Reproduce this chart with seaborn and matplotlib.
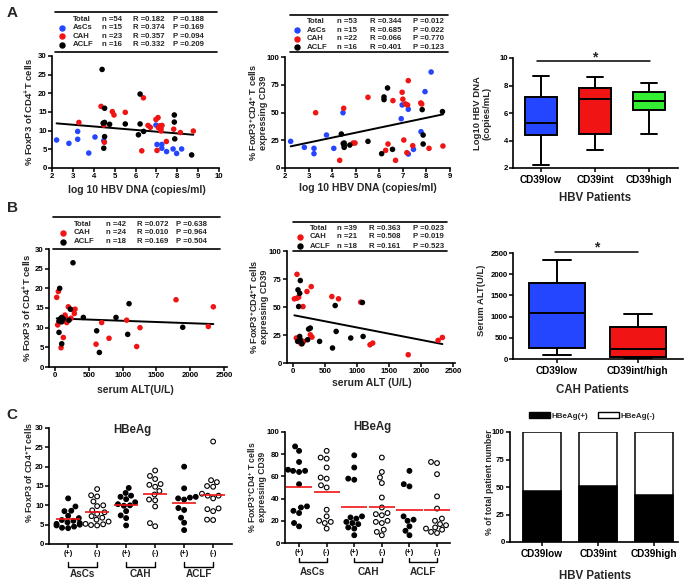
import numpy as np
import pandas as pd
import matplotlib
matplotlib.use("Agg")
import matplotlib.pyplot as plt
import seaborn as sns
from matplotlib.lines import Line2D
from matplotlib.patches import Patch
from matplotlib.transforms import blended_transform_factory

# ------------------------------------------------------------------ data
# Panel A left: log10 HBV DNA vs % FoxP3 of CD4+ T cells
a1_ascs_x = [2.22, 2.81, 3.23, 3.23, 3.76, 4.06, 4.48, 6.98, 7.03, 7.26, 7.26, 7.49, 7.80, 7.97, 8.21]
a1_ascs_y = [7.5, 6.6, 9.8, 7.7, 4.0, 8.3, 7.3, 11.5, 6.3, 6.3, 5.3, 4.4, 5.1, 3.9, 5.1]
a1_cah_x = [3.29, 4.35, 4.48, 4.51, 4.89, 4.97, 5.51, 6.30, 6.38, 6.60, 6.71, 6.98, 7.08, 7.03,
            7.17, 7.22, 7.22, 7.27, 7.48, 7.83, 8.15, 8.77, 7.10]
a1_cah_y = [12.2, 16.5, 11.5, 6.9, 15.1, 14.2, 14.9, 4.6, 18.8, 11.4, 10.9, 13.0, 13.5, 4.7,
            11.3, 10.5, 9.9, 11.4, 7.1, 10.4, 9.5, 9.9, 10.8]
a1_aclf_x = [4.40, 4.48, 4.52, 4.52, 4.52, 4.76, 5.51, 6.14, 6.22, 6.22, 6.39, 7.86, 7.86, 7.88, 8.69, 4.45]
a1_aclf_y = [26.4, 5.3, 16.0, 12.2, 8.4, 11.7, 11.8, 8.9, 19.8, 11.8, 9.8, 14.2, 12.3, 7.8, 3.5, 12.0]

# Panel A middle: log10 HBV DNA vs % FoxP3+CD4+ T cells expressing CD39
a2_ascs_x = [2.24, 2.82, 3.23, 3.23, 3.76, 4.07, 4.46, 6.93, 6.97, 7.23, 7.23, 7.45, 7.77, 7.94, 8.20]
a2_ascs_y = [24.0, 18.6, 17.7, 12.9, 29.7, 17.7, 49.8, 44.4, 56.8, 52.9, 12.6, 16.8, 32.7, 68.8, 86.5]
a2_cah_x = [3.30, 4.32, 4.49, 4.89, 4.97, 5.52, 6.27, 6.37, 6.58, 6.69, 6.97, 7.00, 7.04, 7.11,
            7.17, 7.20, 7.23, 7.42, 7.76, 7.80, 8.11, 8.70]
a2_cah_y = [49.8, 6.9, 53.8, 22.5, 22.5, 63.7, 15.9, 21.6, 60.7, 6.9, 68.2, 62.0, 25.2, 57.7,
            13.8, 56.8, 78.7, 20.1, 58.6, 57.7, 17.7, 19.8]
a2_aclf_x = [4.39, 4.51, 4.51, 4.51, 4.75, 5.52, 6.10, 6.20, 6.20, 6.35, 6.56, 7.82, 7.86, 7.86, 8.68, 4.47]
a2_aclf_y = [30.6, 22.5, 20.4, 18.6, 20.7, 24.0, 12.9, 64.0, 61.6, 72.1, 16.8, 52.6, 29.7, 21.6, 50.8, 22.0]

# Panel A right: HBV DNA by CD39 group (min, Q1, median, Q3, max)
a3_groups = ["CD39low", "CD39int", "CD39high"]
a3_low = [2.25, 4.4, 5.25, 7.2, 8.7]
a3_int = [3.3, 4.45, 7.0, 7.85, 8.65]
a3_high = [4.5, 6.2, 6.85, 7.55, 8.2]

# Panel B left: serum ALT vs % FoxP3 of CD4+ T cells
b1_cah_x = [25, 49, 39, 59, 89, 123, 158, 173, 197, 271, 286, 296, 99, 690, 607, 799,
            1060, 1208, 1257, 1790, 2268, 2342, 237, 148]
b1_cah_y = [17.7, 19.2, 10.7, 11.3, 4.9, 7.5, 12.5, 11.3, 15.3, 14.5, 13.6, 14.7, 12.1, 11.3, 5.8, 7.3,
            11.9, 5.2, 10.0, 17.1, 10.3, 15.3, 12.4, 13.2]
b1_aclf_x = [69, 266, 59, 99, 59, 74, 99, 123, 207, 227, 419, 616, 656, 902, 1075, 1095, 1889, 100]
b1_aclf_y = [20.0, 26.5, 8.8, 5.9, 11.7, 12.2, 12.6, 12.2, 11.9, 14.7, 12.6, 9.2, 3.7, 12.6, 8.3, 16.1, 10.1, 11.5]

# Panel B middle: serum ALT vs % FoxP3+CD4+ T cells expressing CD39
b2_cah_x = [62, 21, 62, 88, 52, 156, 218, 285, 270, 296, 607, 711, 1058, 1203, 1245, 1800, 2267, 2334, 88, 166, 125]
b2_cah_y = [79.2, 57.3, 57.9, 58.8, 22.3, 50.4, 63.8, 68.2, 25.2, 23.1, 59.3, 57.3, 54.3, 16.3, 17.8, 7.4,
            20.2, 22.8, 20.8, 19.3, 17.2]
b2_aclf_x = [78, 104, 114, 88, 73, 104, 114, 140, 244, 270, 228, 415, 617, 659, 674, 902, 1084, 1095]
b2_aclf_y = [65.3, 62.2, 73.6, 50.4, 19.3, 23.7, 20.8, 17.2, 30.3, 31.2, 20.8, 19.3, 13.4, 51.3, 28.2,
             22.3, 54.0, 23.7]

# Panel B right: serum ALT by CD39 group in CAH (min, Q1, median, Q3, max)
b3_groups = ["CD39low", "CD39int/high"]
b3_low = [100, 270, 1090, 1800, 2340]
b3_inthigh = [30, 50, 240, 760, 1060]

# Panel C: HBeAg(+)/(-) column scatters
c_groups = ["AsCs", "CAH", "ACLF"]
c1_ascs_pos = [11.8, 9.7, 8.6, 8.5, 7.3, 6.7, 6.2, 6.0, 5.6, 5.4, 5.2, 5.0, 4.8, 4.5, 4.2, 4.1]
c1_ascs_neg = [14.2, 12.6, 12.3, 11.0, 10.0, 9.8, 8.7, 8.2, 7.8, 7.2, 6.8, 6.3, 5.8, 5.2, 5.1, 4.9, 4.8]
c1_cah_pos = [14.5, 13.2, 12.5, 12.2, 11.6, 10.8, 10.3, 10.0, 9.9, 8.5, 7.4, 6.7, 4.8]
c1_cah_neg = [19.0, 17.6, 16.8, 15.5, 15.3, 14.8, 13.7, 12.8, 11.5, 11.3, 9.7, 5.4, 4.6]
c1_aclf_pos = [20.0, 14.4, 12.2, 12.0, 11.8, 11.5, 9.3, 8.8, 6.8, 5.5, 3.6]
c1_aclf_neg = [26.5, 16.5, 16.0, 15.0, 14.8, 13.0, 12.5, 12.5, 11.8, 9.2, 9.0, 8.5, 6.3, 6.2]

c2_ascs_pos = [87, 83, 73, 66, 65, 65, 64, 53, 33, 32, 29, 27, 18, 15]
c2_ascs_neg = [83, 77, 76, 68, 59, 58, 52, 50, 30, 24, 20, 19, 18, 13]
c2_cah_pos = [79, 68, 58, 57, 24, 23, 22, 19, 18, 17, 14, 13, 7]
c2_cah_neg = [77, 64, 59, 54, 41, 32, 27, 26, 25, 20, 19, 18, 12, 10, 7]
c2_aclf_pos = [65, 53, 51, 24, 21, 20, 15, 11, 7]
c2_aclf_neg = [73, 72, 62, 42, 31, 22, 20, 17, 16, 14, 13, 12, 10, 9]

# Panel C right: % HBeAg(+) per CD39 group
c3_groups = ["CD39low", "CD39int", "CD39high"]
c3_pos_pct = [46.5, 50.5, 42.5]
c3_total_pct = [100, 100, 100]

# statistics tables
tabA1 = [("Total", "n =54", "R =0.182", "P =0.188"), ("AsCs", "n =15", "R =0.374", "P =0.169"),
         ("CAH", "n =23", "R =0.357", "P =0.094"), ("ACLF", "n =16", "R =0.332", "P =0.209")]
tabA2 = [("Total", "n =53", "R =0.344", "P =0.012"), ("AsCs", "n =15", "R =0.685", "P =0.022"),
         ("CAH", "n =22", "R =0.066", "P =0.770"), ("ACLF", "n =16", "R =0.401", "P =0.123")]
tabB1 = [("Total", "n =42", "R =0.072", "P =0.638"), ("CAH", "n =24", "R =0.010", "P =0.964"),
         ("ACLF", "n =18", "R =0.169", "P =0.504")]
tabB2 = [("Total", "n =39", "R =0.363", "P =0.023"), ("CAH", "n =21", "R =0.508", "P =0.019"),
         ("ACLF", "n =18", "R =0.161", "P =0.523")]

# ------------------------------------------------------------------ style
sns.set_style("ticks")
plt.rcParams["font.family"] = ["Liberation Sans", "DejaVu Sans"]
plt.rcParams["font.weight"] = "bold"
plt.rcParams["axes.labelweight"] = "bold"
plt.rcParams["mathtext.fontset"] = "custom"
plt.rcParams["mathtext.rm"] = "Liberation Sans:bold"
plt.rcParams["mathtext.bf"] = "Liberation Sans:bold"
plt.rcParams["mathtext.it"] = "Liberation Sans:bold"

BLUE = "#2446ff"
RED = "#f01414"
GREEN = "#33ee33"
PAL = {"AsCs": BLUE, "CAH": RED, "ACLF": "black"}

W, H = 685, 586
fig = plt.figure(figsize=(W / 100, H / 100), dpi=100)
fig.patch.set_facecolor("white")


def add_ax(l, t, r, b):
    return fig.add_axes([l / W, 1 - b / H, (r - l) / W, (b - t) / H])


def prism(ax, ls=5.6):
    for s in ["top", "right"]:
        ax.spines[s].set_visible(False)
    for s in ["left", "bottom"]:
        ax.spines[s].set_linewidth(1.2)
        ax.spines[s].set_color("black")
    ax.tick_params(direction="out", length=3, width=1.1, labelsize=ls, pad=0.8, colors="black")
    ax.set_xlabel("")
    ax.set_ylabel("")
    ax.set_facecolor("white")


def ftext(x, y, s, size=7, rot=0, ha="center", va="center", **kw):
    fig.text(x / W, 1 - y / H, s, fontsize=size, rotation=rot, ha=ha, va=va,
             fontweight="bold", **kw)


def hline_px(x0, x1, y, lw=1.2):
    fig.add_artist(Line2D([x0 / W, x1 / W], [1 - y / H] * 2, color="black", lw=lw,
                          transform=fig.transFigure))


def stat_table(x0, x1, ytop, ybot, ys, cols, rows, colors):
    hline_px(x0, x1, ytop)
    hline_px(x0, x1, ybot)
    for row, y, c in zip(rows, ys, colors):
        if c is not None:
            fig.add_artist(Line2D([cols[0] / W], [1 - y / H], marker="o", ms=3.6, color=c,
                                  lw=0, transform=fig.transFigure))
        for txt, cx in zip(row, cols[1:]):
            ftext(cx, y, txt, size=5.6, ha="left")


def scatter_df(groups):
    rows = []
    for g, xs, ys in groups:
        for x, y in zip(xs, ys):
            rows.append({"x": x, "y": y, "grp": g})
    return pd.DataFrame(rows)


# ------------------------------------------------------------------ A left
ax = add_ax(52, 56, 219, 168)
dfa1 = scatter_df([("AsCs", a1_ascs_x, a1_ascs_y), ("CAH", a1_cah_x, a1_cah_y), ("ACLF", a1_aclf_x, a1_aclf_y)])
sns.scatterplot(data=dfa1, x="x", y="y", hue="grp", palette=PAL, s=16, linewidth=0, legend=False, ax=ax, zorder=3)
sns.regplot(data=dfa1, x="x", y="y", scatter=False, ci=None, color="black", line_kws={"lw": 1.4}, ax=ax)
ax.set_xlim(2, 10)
ax.set_ylim(0, 30)
ax.set_xticks(range(2, 11))
ax.set_yticks(range(0, 31, 5))
prism(ax)
stat_table(55, 217, 12, 52, [19.3, 27.8, 36.3, 45], [62, 73, 102, 133, 173], tabA1,
           [None, BLUE, RED, "black"])
ftext(29, 112, r"% FoxP3 of CD4$^{+}$T cells", size=6.8, rot=90)
ftext(137, 190, "log 10 HBV DNA (copies/ml)", size=7.5)
ftext(12, 13, "A", size=11)

# ------------------------------------------------------------------ A middle
ax = add_ax(285, 57, 450, 168)
dfa2 = scatter_df([("AsCs", a2_ascs_x, a2_ascs_y), ("CAH", a2_cah_x, a2_cah_y), ("ACLF", a2_aclf_x, a2_aclf_y)])
sns.scatterplot(data=dfa2, x="x", y="y", hue="grp", palette=PAL, s=16, linewidth=0, legend=False, ax=ax, zorder=3)
sns.regplot(data=dfa2, x="x", y="y", scatter=False, ci=None, color="black", line_kws={"lw": 1.4}, ax=ax)
ax.set_xlim(2, 9)
ax.set_ylim(0, 100)
ax.set_xticks(range(2, 10))
ax.set_yticks(range(0, 101, 25))
prism(ax)
stat_table(290, 448, 15, 52, [21.7, 30.4, 39, 47.3], [297, 307, 337, 370, 413], tabA2,
           [None, BLUE, RED, "black"])
ftext(258, 113, "% FoxP3$^{+}$CD4$^{+}$ T cells\nexpressing CD39", size=6.6, rot=90, linespacing=1.0)
ftext(368, 188, "log 10 HBV DNA (copies/ml)", size=7.5)

# ------------------------------------------------------------------ A right
ax = add_ax(513, 58, 678, 168)
dfa3 = pd.DataFrame({"grp": np.repeat(a3_groups, 5), "val": a3_low + a3_int + a3_high})
sns.boxplot(data=dfa3, x="grp", y="val", hue="grp", order=a3_groups, palette=[BLUE, RED, GREEN],
            whis=(0, 100), width=0.6, linewidth=1.4, linecolor="black", fliersize=0, legend=False,
            saturation=1, ax=ax)
ax.set_xlim(-0.52, 2.54)
ax.set_ylim(2, 10)
ax.set_yticks(range(2, 11, 2))
prism(ax)
ax.tick_params(axis="x", labelsize=7.2, pad=2)
ax.plot([-0.07, 2.02], [9.78, 9.78], color="black", lw=1.1, clip_on=False)
ax.text(1, 10.05, "*", ha="center", va="center", fontsize=10, fontweight="bold")
ftext(482, 113, "Log10 HBV DNA\n(copies/mL)", size=6.8, rot=90, linespacing=1.0)
ftext(595, 198, "HBV Patients", size=8.3)

# ------------------------------------------------------------------ B left
ax = add_ax(49, 249, 227, 367)
dfb1 = scatter_df([("CAH", b1_cah_x, b1_cah_y), ("ACLF", b1_aclf_x, b1_aclf_y)])
sns.scatterplot(data=dfb1, x="x", y="y", hue="grp", palette=PAL, s=16, linewidth=0, legend=False, ax=ax, zorder=3)
sns.regplot(data=dfb1, x="x", y="y", scatter=False, ci=None, color="black", line_kws={"lw": 1.4}, ax=ax)
ax.set_xlim(-89, 2544)
ax.set_ylim(0, 30)
ax.set_xticks(range(0, 2501, 500))
ax.set_yticks(range(0, 31, 5))
prism(ax)
stat_table(53, 220, 217, 249, [224, 233, 242], [63, 74, 106, 137, 176], tabB1, [None, RED, "black"])
ftext(27, 308, r"% FoxP3 of CD4$^{+}$T cells", size=6.8, rot=90)
ftext(135, 390, "serum ALT(U/L)", size=7.5)
ftext(12, 208, "B", size=11)

# ------------------------------------------------------------------ B middle
ax = add_ax(287, 251, 455, 363)
dfb2 = scatter_df([("CAH", b2_cah_x, b2_cah_y), ("ACLF", b2_aclf_x, b2_aclf_y)])
sns.scatterplot(data=dfb2, x="x", y="y", hue="grp", palette=PAL, s=16, linewidth=0, legend=False, ax=ax, zorder=3)
sns.regplot(data=dfb2, x="x", y="y", scatter=False, ci=None, color="black", line_kws={"lw": 1.4}, ax=ax)
ax.set_xlim(-94, 2531)
ax.set_ylim(0, 100)
ax.set_xticks(range(0, 2501, 500))
ax.set_yticks(range(0, 101, 25))
prism(ax)
stat_table(293, 447, 222, 251, [228, 237, 246], [300, 310, 337, 369, 413], tabB2, [None, RED, "black"])
ftext(259, 307, "% FoxP3$^{+}$CD4$^{+}$T cells\nexpressing CD39", size=6.6, rot=90, linespacing=1.0)
ftext(372, 383, "serum ALT (U/L)", size=7.5)

# ------------------------------------------------------------------ B right
ax = add_ax(513, 253, 683, 359)
dfb3 = pd.DataFrame({"grp": np.repeat(b3_groups, 5), "val": b3_low + b3_inthigh})
sns.boxplot(data=dfb3, x="grp", y="val", hue="grp", order=b3_groups, palette=[BLUE, RED],
            whis=(0, 100), width=0.69, linewidth=1.4, linecolor="black", fliersize=0, legend=False,
            saturation=1, ax=ax)
ax.set_xlim(-0.54, 1.56)
ax.set_ylim(0, 2500)
ax.set_yticks(range(0, 2501, 500))
prism(ax)
ax.tick_params(axis="x", labelsize=7.2, pad=2)
ax.plot([-0.02, 1.0], [2520, 2520], color="black", lw=1.1, clip_on=False)
ax.text(0.49, 2640, "*", ha="center", va="center", fontsize=10, fontweight="bold")
ftext(481, 300, "Serum ALT(U/L)", size=6.8, rot=90)
ftext(592, 390, "CAH Patients", size=8.3)

# ------------------------------------------------------------------ C left / middle
def c_df(sets):
    rows = []
    for g, pos, neg in sets:
        for v in pos:
            rows.append({"col": g + " +", "sign": "+", "grp": g, "val": v})
        for v in neg:
            rows.append({"col": g + " -", "sign": "-", "grp": g, "val": v})
    return pd.DataFrame(rows)


c_order = [g + s for g in c_groups for s in (" +", " -")]


def c_panel(rect, df, ylim, yticks, mean_w, bracket_y, tick_top_y, lab_y, title_xy):
    ax = add_ax(*rect)
    sns.swarmplot(data=df, x="col", y="val", hue="sign", order=c_order,
                  palette={"+": "black", "-": "white"}, edgecolor="black", linewidth=0.8,
                  size=3.4, legend=False, ax=ax, zorder=3)
    means = df.groupby("col")["val"].mean().reindex(c_order).values
    pos = np.arange(len(c_order))
    ax.hlines(means, pos - mean_w / 2, pos + mean_w / 2, color=RED, lw=1.2, zorder=4)
    ax.set_ylim(*ylim)
    ax.set_yticks(yticks)
    ax.set_xticks(pos)
    ax.set_xticklabels(["(+)", "(-)"] * 3)
    prism(ax)
    ax.tick_params(axis="x", labelsize=5.2, pad=1.5)
    t, b = rect[1], rect[3]

    def ay(yp):
        return (b - yp) / (b - t)

    tr = blended_transform_factory(ax.transData, ax.transAxes)
    for i, g in enumerate(c_groups):
        x0, x1 = 2 * i, 2 * i + 1
        ax.plot([x0, x0, x1, x1], [ay(tick_top_y), ay(bracket_y), ay(bracket_y), ay(tick_top_y)],
                color="black", lw=1.0, transform=tr, clip_on=False)
        ax.text((x0 + x1) / 2, ay(lab_y), g, transform=tr, ha="center", va="center",
                fontsize=7.2, fontweight="bold")
    ftext(title_xy[0], title_xy[1], "HBeAg", size=8.3)
    return ax


dfc1 = c_df([("AsCs", c1_ascs_pos, c1_ascs_neg), ("CAH", c1_cah_pos, c1_cah_neg), ("ACLF", c1_aclf_pos, c1_aclf_neg)])
ax = c_panel((49, 428, 232, 544), dfc1, (0, 30), range(0, 31, 5), 0.85, 567, 562, 574, (132, 430))
ax.set_xlim(-0.66, 5.65)
ftext(29, 472, r"% FoxP3 of CD4$^{+}$T cells", size=6.4, rot=90)
ftext(12, 415, "C", size=11)

dfc2 = c_df([("AsCs", c2_ascs_pos, c2_ascs_neg), ("CAH", c2_cah_pos, c2_cah_neg), ("ACLF", c2_aclf_pos, c2_aclf_neg)])
ax = c_panel((285, 432, 450, 543), dfc2, (0, 100), range(0, 101, 20), 0.95, 562, 558, 572, (372, 427))
ax.set_xlim(-0.51, 5.47)
ftext(257, 487, "% FoxP3$^{+}$CD4$^{+}$ T cells\nexpressing CD39", size=6.2, rot=90, linespacing=1.0)

# ------------------------------------------------------------------ C right
ax = add_ax(510, 432, 678, 542)
dfc3 = pd.DataFrame({"grp": c3_groups, "total": c3_total_pct, "pos": c3_pos_pct})
sns.barplot(data=dfc3, x="grp", y="total", color="white", edgecolor="black", linewidth=1.1,
            width=0.68, ax=ax, zorder=2)
sns.barplot(data=dfc3, x="grp", y="pos", color="black", edgecolor="black", linewidth=1.1,
            width=0.68, ax=ax, zorder=3)
ax.set_xlim(-0.57, 2.43)
ax.set_ylim(0, 100)
ax.set_yticks(range(0, 101, 25))
prism(ax)
ax.tick_params(axis="x", labelsize=7.2, pad=2)
handles = [Patch(facecolor="black", edgecolor="black", lw=1), Patch(facecolor="white", edgecolor="black", lw=1)]
ax.legend(handles, ["HBeAg(+)", "HBeAg(-)"], ncol=2, loc="lower center", bbox_to_anchor=(0.49, 1.08),
          frameon=False, fontsize=5.8, handlelength=2.6, handleheight=0.7, handletextpad=0.2,
          columnspacing=1.2, borderaxespad=0)
ftext(489, 482, "% of total patient number", size=6.3, rot=90)
ftext(595, 576, "HBV Patients", size=8.3)

fig.savefig("out.png", dpi=100, facecolor="white")
